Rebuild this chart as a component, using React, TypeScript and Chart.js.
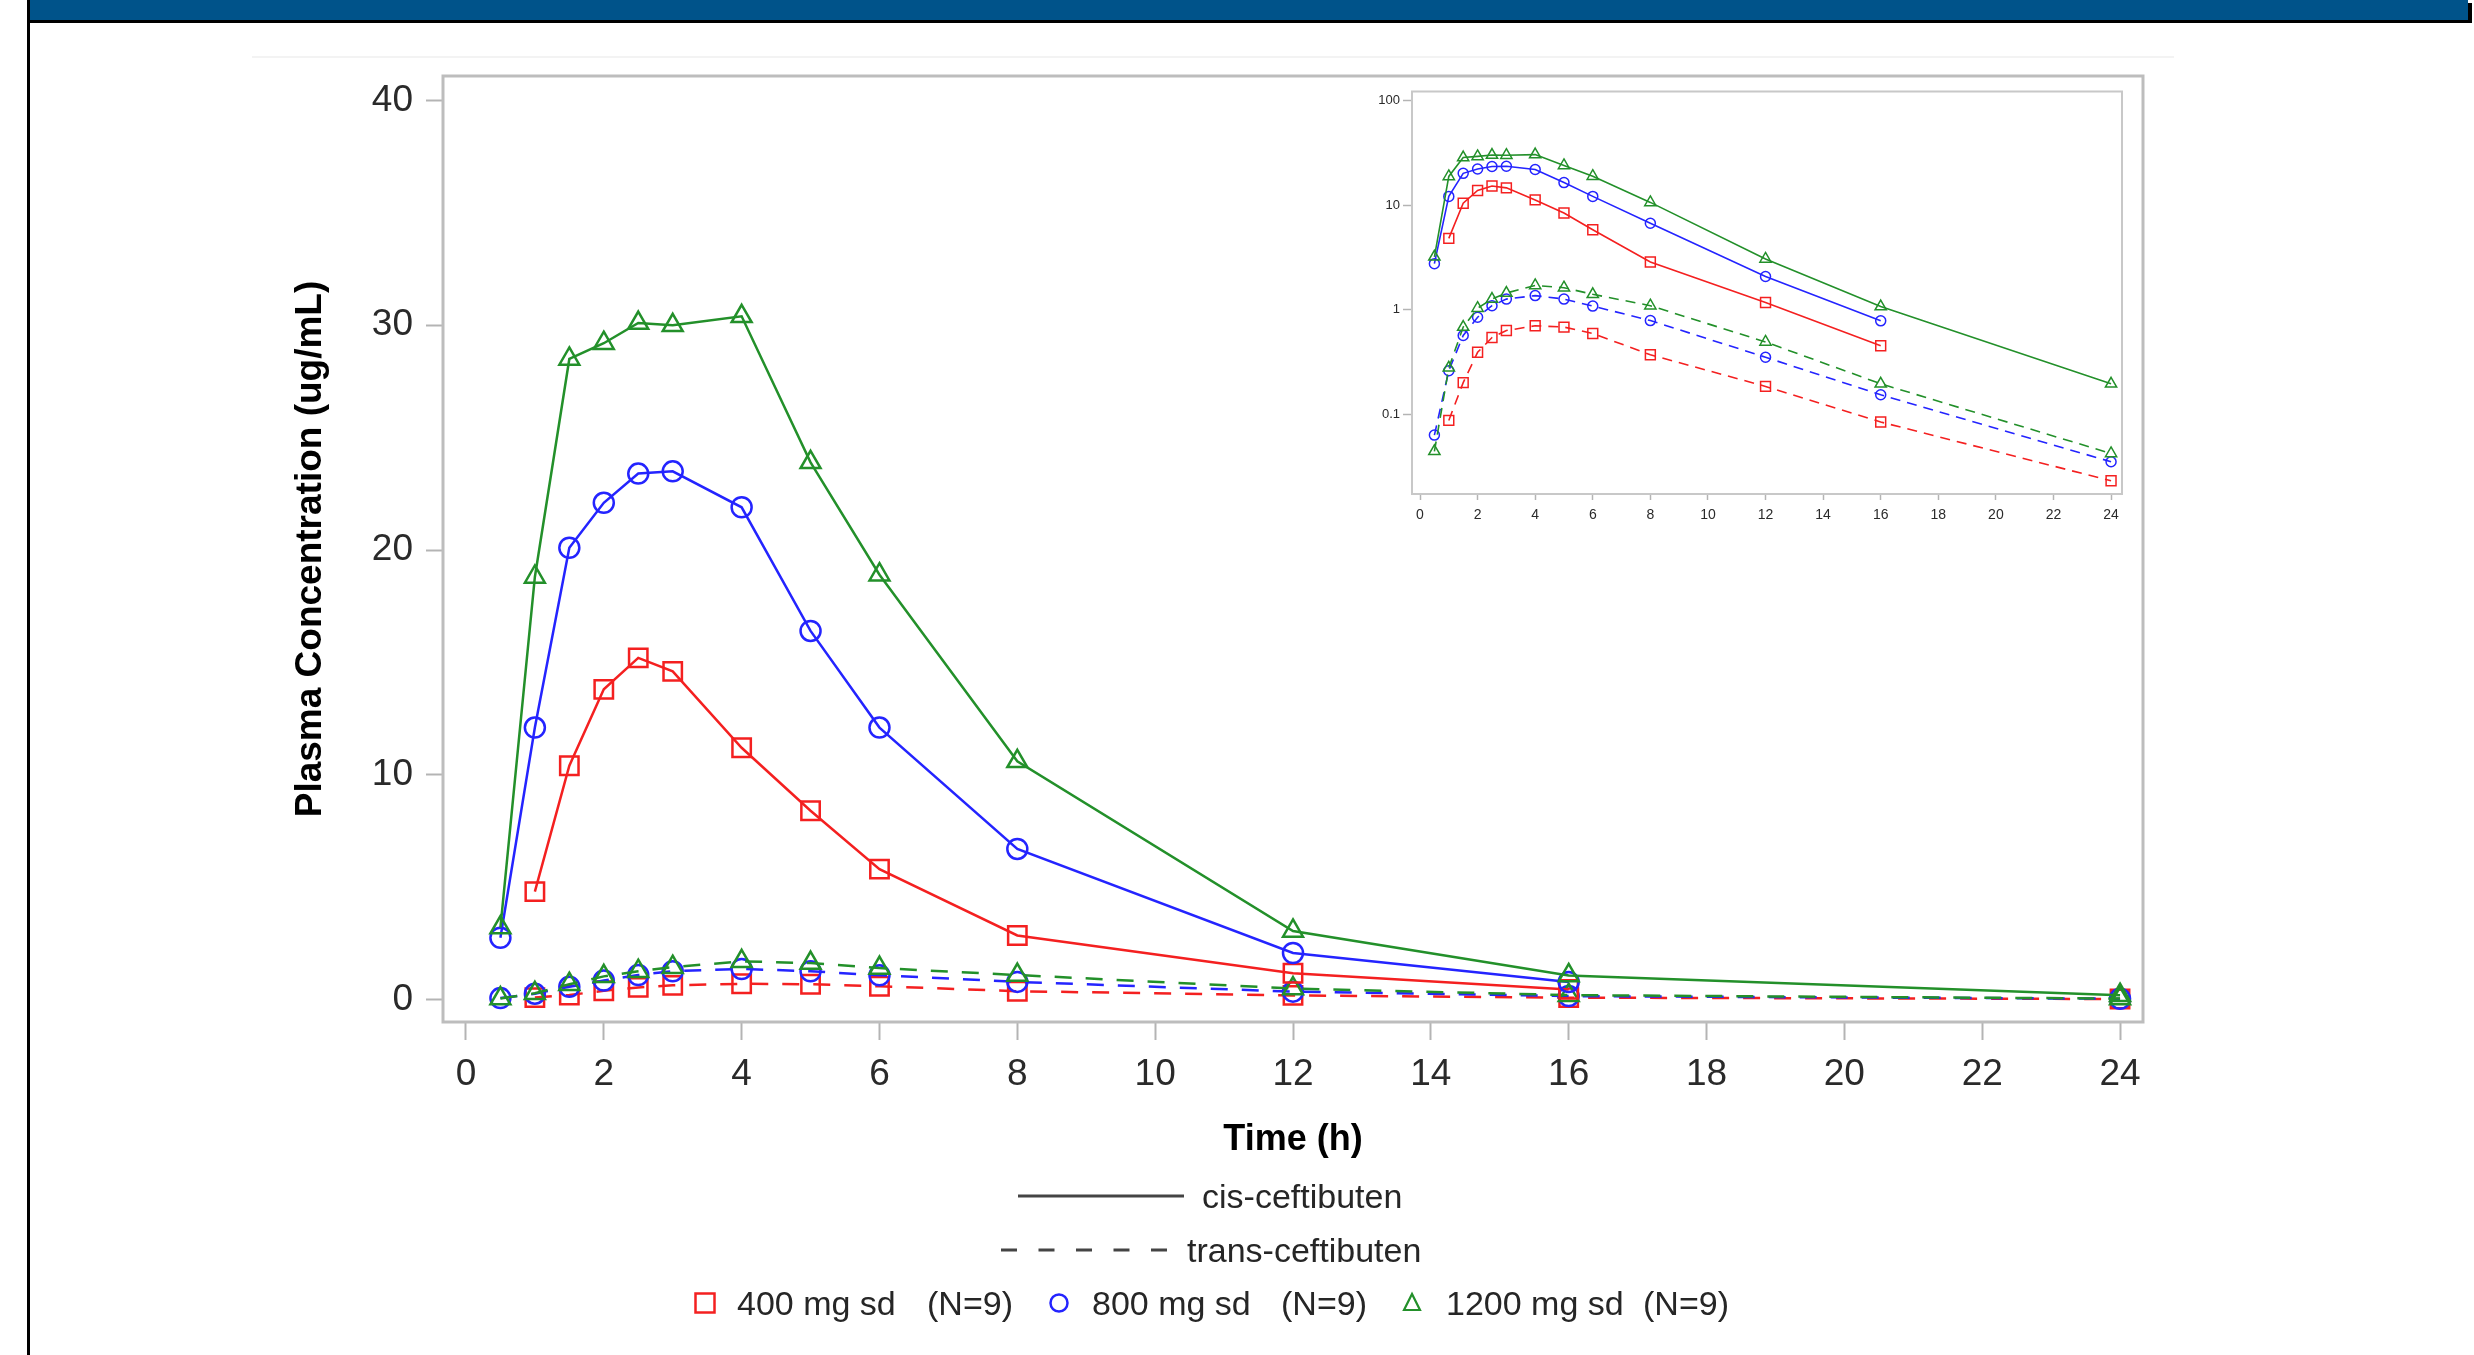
import React, { useEffect, useRef } from 'react';
import { Chart, registerables } from 'chart.js';

Chart.register(...registerables);

// ---------- data ----------
const TIMES = [0.5, 1, 1.5, 2, 2.5, 3, 4, 5, 6, 8, 12, 16, 24];

const CIS_400 = [null, 4.8, 10.4, 13.8, 15.2, 14.6, 11.2, 8.4, 5.8, 2.85, 1.17, 0.45, null];
const CIS_800 = [2.75, 12.1, 20.1, 22.1, 23.4, 23.5, 21.9, 16.4, 12.1, 6.7, 2.07, 0.78, null];
const CIS_1200 = [3.2, 18.8, 28.5, 29.2, 30.1, 30.0, 30.4, 23.9, 18.9, 10.6, 3.05, 1.07, 0.195];

const TRANS_400 = [null, 0.087, 0.2, 0.39, 0.54, 0.63, 0.7, 0.68, 0.59, 0.37, 0.184, 0.084, 0.023];
const TRANS_800 = [0.063, 0.26, 0.565, 0.845, 1.09, 1.26, 1.36, 1.26, 1.08, 0.785, 0.35, 0.153, 0.035];
const TRANS_1200 = [0.044, 0.277, 0.68, 1.03, 1.26, 1.44, 1.7, 1.62, 1.4, 1.09, 0.49, 0.195, 0.042];

const X_TICKS = [0, 2, 4, 6, 8, 10, 12, 14, 16, 18, 20, 22, 24];
const Y_TICKS = [0, 10, 20, 30, 40];
const INSET_Y_TICKS = [0.1, 1, 10, 100];
const INSET_Y_LABELS = ['0.1', '1', '10', '100'];

const DOSE_LABELS = ['400 mg sd', '800 mg sd', '1200 mg sd'];
const N_LABELS = ['(N=9)', '(N=9)', '(N=9)'];
const FORM_LABELS = ['cis-ceftibuten', 'trans-ceftibuten'];
const X_TITLE = 'Time (h)';
const Y_TITLE = 'Plasma Concentration (ug/mL)';

// ---------- styles ----------
const FONT = '"Liberation Sans", Arial, Helvetica, sans-serif';
const RED = '#F42020';
const BLUE = '#2424FF';
const GREEN = '#23902A';

type Series = { values: (number | null)[]; color: string; style: string; dashed: boolean };

const SERIES: Series[] = [
  { values: CIS_1200, color: GREEN, style: 'triangle', dashed: false },
  { values: CIS_800, color: BLUE, style: 'circle', dashed: false },
  { values: CIS_400, color: RED, style: 'rect', dashed: false },
  { values: TRANS_1200, color: GREEN, style: 'triangle', dashed: true },
  { values: TRANS_800, color: BLUE, style: 'circle', dashed: true },
  { values: TRANS_400, color: RED, style: 'rect', dashed: true },
];

function makeDatasets(inset: boolean) {
  const radius: Record<string, number> = inset
    ? { rect: 7, circle: 5, triangle: 6.5 }
    : { rect: 13, circle: 10, triangle: 11.5 };
  return SERIES.map((s) => ({
    data: TIMES.map((t, i) => ({ x: t, y: s.values[i] })).filter((p) => p.y !== null),
    borderColor: s.color,
    borderWidth: inset ? 1.6 : 2.5,
    borderDash: s.dashed ? (inset ? [10, 7] : [17, 14]) : [],
    pointStyle: s.style,
    pointRadius: radius[s.style],
    pointBorderColor: s.color,
    pointBackgroundColor: 'rgba(0,0,0,0)',
    pointBorderWidth: inset ? 1.5 : 2.5,
    tension: 0,
    fill: false,
  }));
}

function framePlugin(color: string, width: number) {
  return {
    id: 'frame',
    beforeDatasetsDraw(chart: any) {
      const { ctx, chartArea: a } = chart;
      ctx.save();
      ctx.strokeStyle = color;
      ctx.lineWidth = width;
      ctx.strokeRect(a.left, a.top, a.right - a.left, a.bottom - a.top);
      ctx.restore();
    },
  };
}

const MAIN_W = 2474;
const MAIN_H = 1355;
const INSET_LEFT = 1340;
const INSET_TOP = 80;
const INSET_W = 800;
const INSET_H = 460;

export default function App() {
  const mainRef = useRef<HTMLCanvasElement>(null);
  const insetRef = useRef<HTMLCanvasElement>(null);

  useEffect(() => {
    const main = new Chart(mainRef.current as HTMLCanvasElement, {
      type: 'line',
      data: { datasets: makeDatasets(false) as any },
      plugins: [framePlugin('#bdbdbd', 3)],
      options: {
        responsive: false,
        maintainAspectRatio: false,
        animation: false,
        layout: { padding: { left: 0, top: 76, right: MAIN_W - 2143, bottom: MAIN_H - 1022 - 110 } },
        plugins: { legend: { display: false }, tooltip: { enabled: false } },
        scales: {
          x: {
            type: 'linear',
            min: -0.333,
            max: 24.333,
            afterBuildTicks: (s: any) => {
              s.ticks = X_TICKS.map((v) => ({ value: v }));
            },
            afterFit: (s: any) => {
              s.height = 110;
            },
            border: { display: false },
            grid: { drawOnChartArea: false, drawTicks: true, tickLength: 18, tickWidth: 2, tickColor: '#b4b4b4' },
            ticks: {
              font: { family: FONT, size: 37 },
              color: '#2a2a2a',
              padding: 13,
              maxRotation: 0,
              autoSkip: false,
              callback: (v: any) => String(v),
            },
          },
          y: {
            type: 'linear',
            min: -1,
            max: 41.09,
            afterBuildTicks: (s: any) => {
              s.ticks = Y_TICKS.map((v) => ({ value: v }));
            },
            afterFit: (s: any) => {
              s.width = 443;
            },
            border: { display: false },
            grid: { drawOnChartArea: false, drawTicks: true, tickLength: 17, tickWidth: 2, tickColor: '#b4b4b4' },
            ticks: {
              font: { family: FONT, size: 37 },
              color: '#2a2a2a',
              padding: 13,
              autoSkip: false,
              callback: (v: any) => String(v),
            },
          },
        },
      } as any,
    });

    const inset = new Chart(insetRef.current as HTMLCanvasElement, {
      type: 'line',
      data: { datasets: makeDatasets(true) as any },
      plugins: [framePlugin('#c8c8c8', 2)],
      options: {
        responsive: false,
        maintainAspectRatio: false,
        animation: false,
        layout: { padding: { left: 0, top: 11.5, right: INSET_W - 782, bottom: INSET_H - 494 + 80 - 40 } },
        plugins: { legend: { display: false }, tooltip: { enabled: false } },
        scales: {
          x: {
            type: 'linear',
            min: -0.278,
            max: 24.38,
            afterBuildTicks: (s: any) => {
              s.ticks = X_TICKS.map((v) => ({ value: v }));
            },
            afterFit: (s: any) => {
              s.height = 40;
            },
            border: { display: false },
            grid: { drawOnChartArea: false, drawTicks: true, tickLength: 6, tickWidth: 1.5, tickColor: '#b4b4b4' },
            ticks: {
              font: { family: FONT, size: 14 },
              color: '#2a2a2a',
              padding: 7,
              maxRotation: 0,
              autoSkip: false,
              callback: (v: any) => String(v),
            },
          },
          y: {
            type: 'logarithmic',
            min: 0.0172,
            max: 122,
            afterBuildTicks: (s: any) => {
              s.ticks = INSET_Y_TICKS.map((v) => ({ value: v }));
            },
            afterFit: (s: any) => {
              s.width = 72;
            },
            border: { display: false },
            grid: { drawOnChartArea: false, drawTicks: true, tickLength: 9, tickWidth: 1.5, tickColor: '#b4b4b4' },
            ticks: {
              font: { family: FONT, size: 13 },
              color: '#2a2a2a',
              padding: 3,
              autoSkip: false,
              callback: (_v: any, i: number) => INSET_Y_LABELS[i],
            },
          },
        },
      } as any,
    });

    return () => {
      main.destroy();
      inset.destroy();
    };
  }, []);

  const abs = (s: React.CSSProperties): React.CSSProperties => ({ position: 'absolute', ...s });
  const legendText = (left: number, cy: number, text: string) => (
    <div
      style={abs({
        left,
        top: cy - 17,
        fontSize: 34,
        lineHeight: '34px',
        whiteSpace: 'nowrap',
        color: '#262626',
      })}
    >
      {text}
    </div>
  );

  const row3 = 1303;

  return (
    <div
      style={{
        position: 'fixed',
        left: 0,
        top: 0,
        width: MAIN_W,
        height: MAIN_H,
        background: '#fff',
        overflow: 'hidden',
        fontFamily: FONT,
      }}
    >
      {/* page decorations */}
      <div style={abs({ left: 30, top: 0, width: 2438, height: 20, background: '#00538A' })} />
      <div style={abs({ left: 27, top: 20, width: 2445, height: 3, background: '#000' })} />
      <div style={abs({ left: 2468, top: 3, width: 4, height: 20, background: '#000' })} />
      <div style={abs({ left: 27, top: 0, width: 3, height: MAIN_H, background: '#000' })} />
      <div style={abs({ left: 252, top: 56, width: 1922, height: 2, background: '#f3f3f3' })} />

      <canvas
        ref={mainRef}
        width={MAIN_W}
        height={MAIN_H}
        style={{ position: 'absolute', left: 0, top: 0, width: MAIN_W, height: MAIN_H }}
      />
      <canvas
        ref={insetRef}
        width={INSET_W}
        height={INSET_H}
        style={{ position: 'absolute', left: INSET_LEFT, top: INSET_TOP, width: INSET_W, height: INSET_H }}
      />

      {/* axis titles */}
      <div
        style={abs({
          left: 1293 - 300,
          top: 1138 - 20,
          width: 600,
          textAlign: 'center',
          fontSize: 36,
          lineHeight: '40px',
          fontWeight: 'bold',
          color: '#000',
        })}
      >
        {X_TITLE}
      </div>
      <div
        style={abs({
          left: 309 - 350,
          top: 549 - 20,
          width: 700,
          height: 40,
          textAlign: 'center',
          fontSize: 37,
          lineHeight: '40px',
          fontWeight: 'bold',
          color: '#000',
          transform: 'rotate(-90deg)',
          transformOrigin: '50% 50%',
          whiteSpace: 'nowrap',
        })}
      >
        {Y_TITLE}
      </div>

      {/* legend: line styles */}
      <svg style={abs({ left: 990, top: 1180, width: 200, height: 90, overflow: 'visible' })}>
        <line x1={1018 - 990} y1={16} x2={1184 - 990} y2={16} stroke="#444" strokeWidth={3} />
        <line
          x1={1001 - 990}
          y1={70}
          x2={1167 - 990}
          y2={70}
          stroke="#444"
          strokeWidth={3}
          strokeDasharray="16 21.5"
        />
      </svg>
      {legendText(1202, 1196, FORM_LABELS[0])}
      {legendText(1187, 1250, FORM_LABELS[1])}

      {/* legend: doses */}
      <svg style={abs({ left: 680, top: row3 - 20, width: 760, height: 40, overflow: 'visible' })}>
        <rect x={705 - 680 - 9.5} y={20 - 9.5} width={19} height={19} fill="none" stroke={RED} strokeWidth={2.5} />
        <circle cx={1059 - 680} cy={20} r={8.5} fill="none" stroke={BLUE} strokeWidth={2.5} />
        <polygon
          points={`${1412 - 680},${20 - 9} ${1412 - 680 - 8},${20 + 7} ${1412 - 680 + 8},${20 + 7}`}
          fill="none"
          stroke={GREEN}
          strokeWidth={2.2}
        />
      </svg>
      {legendText(737, row3, DOSE_LABELS[0])}
      {legendText(927, row3, N_LABELS[0])}
      {legendText(1092, row3, DOSE_LABELS[1])}
      {legendText(1281, row3, N_LABELS[1])}
      {legendText(1446, row3, DOSE_LABELS[2])}
      {legendText(1643, row3, N_LABELS[2])}
    </div>
  );
}
